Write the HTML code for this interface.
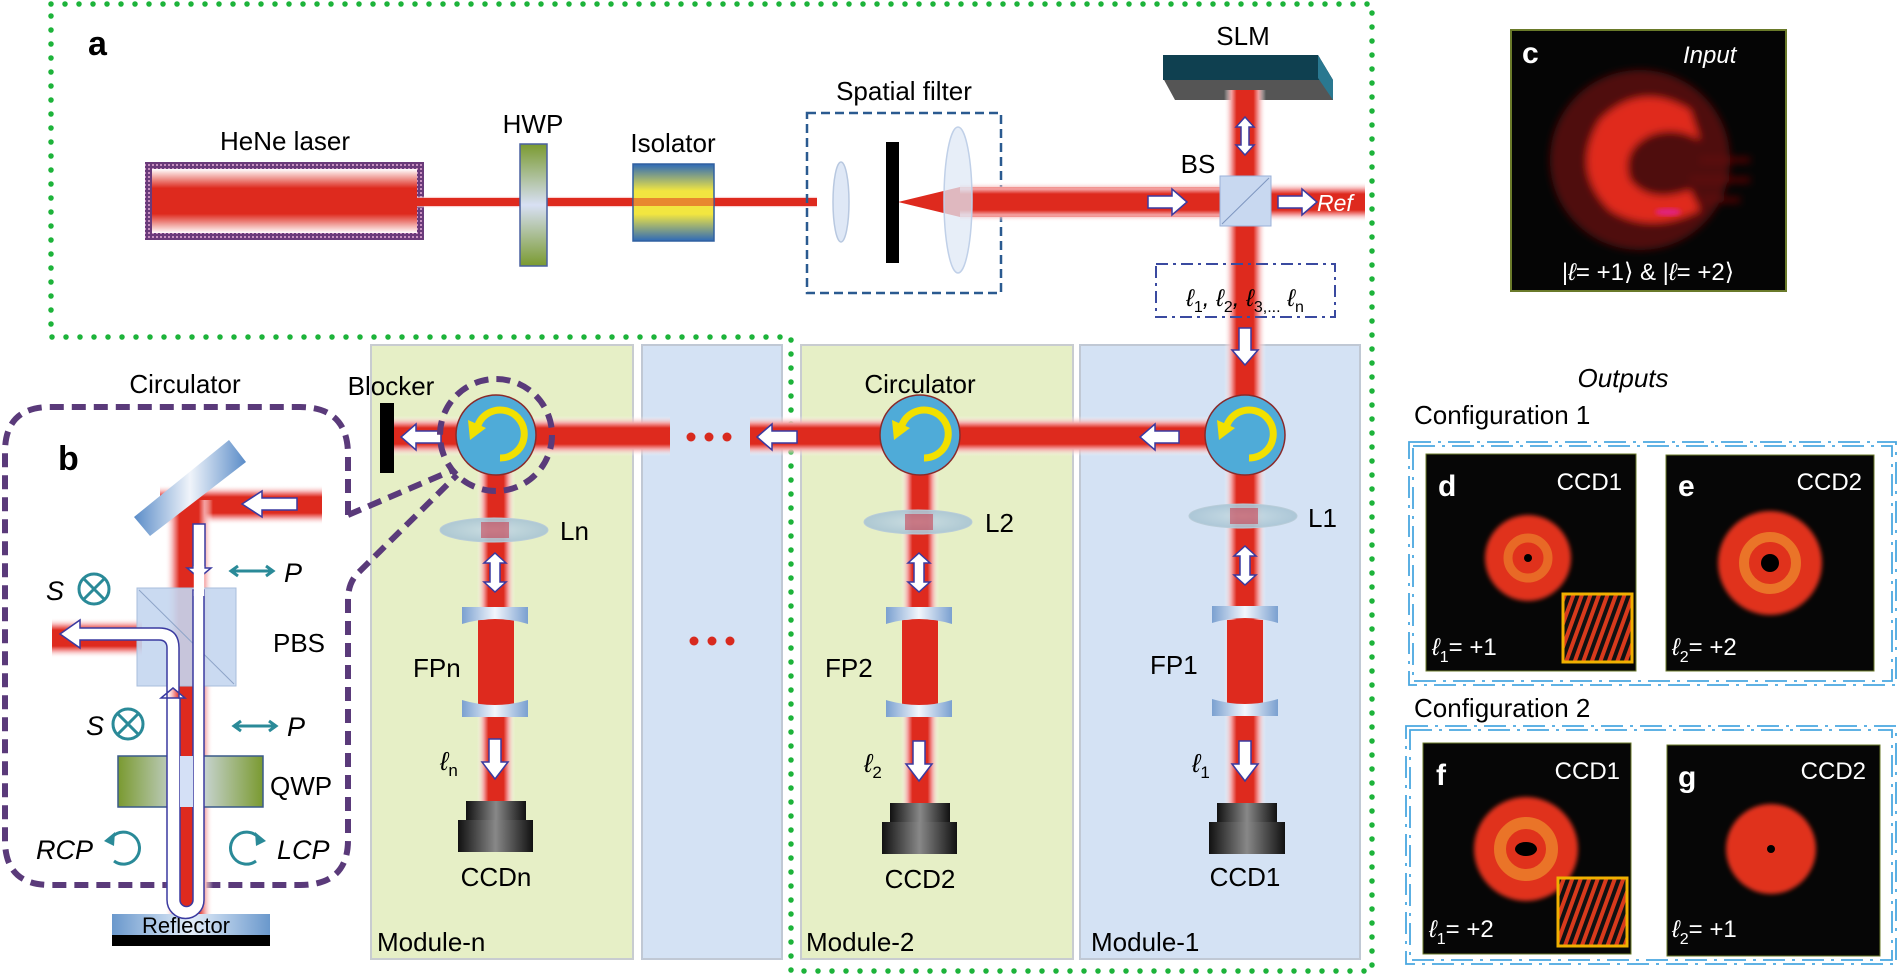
<!DOCTYPE html>
<html><head><meta charset="utf-8"><style>
html,body{margin:0;padding:0;background:#fff;}
svg{display:block;}
text{font-family:"Liberation Sans","DejaVu Sans",sans-serif;}
</style></head><body>
<svg width="1899" height="976" viewBox="0 0 1899 976" xmlns="http://www.w3.org/2000/svg">
<defs>
<linearGradient id="bh" x1="0" y1="0" x2="0" y2="1">
<stop offset="0" stop-color="#fff" stop-opacity="0"/><stop offset="0.18" stop-color="#f4a0a0"/><stop offset="0.3" stop-color="#de2a1e"/><stop offset="0.7" stop-color="#de2a1e"/><stop offset="0.82" stop-color="#f4a0a0"/><stop offset="1" stop-color="#fff" stop-opacity="0"/></linearGradient>
<linearGradient id="bv" x1="0" y1="0" x2="1" y2="0">
<stop offset="0" stop-color="#fff" stop-opacity="0"/><stop offset="0.18" stop-color="#f4a0a0"/><stop offset="0.3" stop-color="#de2a1e"/><stop offset="0.7" stop-color="#de2a1e"/><stop offset="0.82" stop-color="#f4a0a0"/><stop offset="1" stop-color="#fff" stop-opacity="0"/></linearGradient>
<linearGradient id="laser" x1="0" y1="0" x2="0" y2="1">
<stop offset="0" stop-color="#fff"/><stop offset="0.3" stop-color="#de2a1e"/><stop offset="0.7" stop-color="#de2a1e"/><stop offset="1" stop-color="#fff"/></linearGradient>
<linearGradient id="hwp" x1="0" y1="0" x2="0" y2="1">
<stop offset="0" stop-color="#7a9a30"/><stop offset="0.5" stop-color="#d8e0f4"/><stop offset="1" stop-color="#7a9a30"/></linearGradient>
<linearGradient id="iso" x1="0" y1="0" x2="0" y2="1">
<stop offset="0" stop-color="#2e6ab8"/><stop offset="0.35" stop-color="#f2e640"/><stop offset="0.65" stop-color="#f2e640"/><stop offset="1" stop-color="#2e6ab8"/></linearGradient>
<linearGradient id="qwp" x1="0" y1="0" x2="1" y2="0">
<stop offset="0" stop-color="#7a9a30"/><stop offset="0.5" stop-color="#d8e0f4"/><stop offset="1" stop-color="#7a9a30"/></linearGradient>
<linearGradient id="refl" x1="0" y1="0" x2="1" y2="0">
<stop offset="0" stop-color="#6a98cc"/><stop offset="0.5" stop-color="#e4eefa"/><stop offset="1" stop-color="#6a98cc"/></linearGradient>
<linearGradient id="mir" x1="0" y1="0" x2="1" y2="0">
<stop offset="0" stop-color="#5a8cc8"/><stop offset="0.5" stop-color="#f0f4fa"/><stop offset="1" stop-color="#5a8cc8"/></linearGradient>
<linearGradient id="fp" x1="0" y1="0" x2="1" y2="0">
<stop offset="0" stop-color="#7aa0d0"/><stop offset="0.5" stop-color="#f2f6fc"/><stop offset="1" stop-color="#7aa0d0"/></linearGradient>
<linearGradient id="ccd" x1="0" y1="0" x2="1" y2="0">
<stop offset="0" stop-color="#111"/><stop offset="0.5" stop-color="#888"/><stop offset="1" stop-color="#111"/></linearGradient>
<radialGradient id="lens" cx="0.5" cy="0.5" r="0.5">
<stop offset="0" stop-color="#c8dce4"/><stop offset="1" stop-color="#a8c4d4"/></radialGradient>
<pattern id="stripes" width="8" height="8" patternUnits="userSpaceOnUse" patternTransform="rotate(20)">
<rect width="8" height="8" fill="#111"/><rect width="4" height="8" fill="#d83a1c"/></pattern>
<pattern id="hatch" width="4" height="4" patternUnits="userSpaceOnUse">
<rect width="4" height="4" fill="#6a3a7a"/><rect width="2" height="2" fill="#c890c0"/></pattern>
<filter id="blur4"><feGaussianBlur stdDeviation="4"/></filter>
<filter id="blur2"><feGaussianBlur stdDeviation="2"/></filter>
</defs>

<rect x="371" y="345" width="262" height="614" fill="#e6efc6" stroke="#c8ccd0" stroke-width="2"/>
<rect x="642" y="345" width="140" height="614" fill="#d4e2f4" stroke="#c0c8d4" stroke-width="2"/>
<rect x="801" y="345" width="272" height="614" fill="#e6efc6" stroke="#c8ccd0" stroke-width="2"/>
<rect x="1080" y="345" width="280" height="614" fill="#d4e2f4" stroke="#c0c8d4" stroke-width="2"/>

<path d="M51 4 H1372 V971 H791 V337 H51 Z" fill="none" stroke="#1db33a" stroke-width="5.5" stroke-linecap="round" stroke-dasharray="0 14"/>

<text x="88" y="55" font-size="34" font-weight="bold">a</text>
<text x="285" y="150" font-size="26" text-anchor="middle">HeNe laser</text>
<rect x="145" y="162" width="279" height="78" fill="url(#hatch)"/>
<rect x="152" y="169" width="265" height="64" fill="url(#laser)"/>
<rect x="417" y="196" width="400" height="12" fill="url(#bh)"/>
<rect x="417" y="198" width="400" height="8" fill="#de2a1e"/>
<text x="533" y="133" font-size="26" text-anchor="middle">HWP</text>
<rect x="520" y="144" width="27" height="122" fill="url(#hwp)" stroke="#4a60a0" stroke-width="1.5"/>
<text x="673" y="152" font-size="26" text-anchor="middle">Isolator</text>
<rect x="633" y="164" width="81" height="77" fill="url(#iso)" stroke="#3060a0" stroke-width="1.5"/>
<rect x="633" y="198" width="81" height="8" fill="#de2a1e" opacity="0.5"/>
<text x="904" y="100" font-size="26" text-anchor="middle">Spatial filter</text>
<rect x="807" y="113" width="194" height="180" fill="none" stroke="#2a5a90" stroke-width="2.5" stroke-dasharray="9 5"/>
<ellipse cx="841" cy="202" rx="8" ry="40" fill="#dfe8f6" stroke="#b8c8e0" stroke-width="1.5"/>
<path d="M898 202 L960 187 L1230 187 L1230 217 L960 217 Z" fill="#de2a1e"/>
<rect x="960" y="182" width="270" height="40" fill="url(#bh)"/>
<rect x="1271" y="182" width="94" height="40" fill="url(#bh)"/>
<rect x="886" y="142" width="13" height="121" fill="#000"/>
<ellipse cx="958" cy="200" rx="14" ry="73" fill="#dfe8f6" fill-opacity="0.75" stroke="#c0d0e8" stroke-width="1.5"/>

<text x="1243" y="45" font-size="26" text-anchor="middle">SLM</text>
<path d="M1163 55 H1318 L1333 80 V100 H1175 L1163 78 Z" fill="#555"/>
<path d="M1163 55 H1318 L1333 80 H1163 Z" fill="#0f4050"/>
<path d="M1318 55 L1333 80 V100 L1318 78 Z" fill="#2a7890"/>
<rect x="1224" y="90" width="42" height="713" fill="url(#bv)" />
<rect x="1220" y="176" width="51" height="50" fill="#c8d8f0" stroke="#9ab0d8"/>
<line x1="1222" y1="224" x2="1269" y2="178" stroke="#7e96c0" stroke-width="1"/>
<text x="1198" y="173" font-size="26" text-anchor="middle">BS</text>
<polygon points="1148,196 1172,196 1172,189 1187,202 1172,215 1172,208 1148,208" fill="#fff" stroke="#3a3aa0" stroke-width="1.5"/>
<polygon points="1278,196 1302,196 1302,189 1317,202 1302,215 1302,208 1278,208" fill="#fff" stroke="#3a3aa0" stroke-width="1.5"/>
<text x="1317" y="211" font-size="23" font-style="italic" fill="#fff">Ref</text>
<polygon points="1245,117 1254,127 1249,127 1249,145 1254,145 1245,155 1236,145 1241,145 1241,127 1236,127" fill="#fff" stroke="#3a3aa0" stroke-width="1.5"/>
<rect x="1156" y="264" width="179" height="53" fill="#fff" fill-opacity="0" stroke="#3a4aa0" stroke-width="2" stroke-dasharray="12 5 3 5"/>
<text x="1245" y="306" font-size="24" text-anchor="middle" font-style="italic">ℓ<tspan font-size="16" dy="6" font-style="normal">1</tspan><tspan dy="-6">, ℓ</tspan><tspan font-size="16" dy="6" font-style="normal">2</tspan><tspan dy="-6">, ℓ</tspan><tspan font-size="16" dy="6" font-style="normal">3,...</tspan><tspan dy="-6"> ℓ</tspan><tspan font-size="16" dy="6" font-style="normal">n</tspan></text>
<polygon points="1239,328 1251,328 1251,350 1258,350 1245,365 1232,350 1239,350" fill="#fff" stroke="#3a3aa0" stroke-width="1.5"/>

<rect x="394" y="416" width="276" height="40" fill="url(#bh)"/>
<rect x="750" y="416" width="495" height="40" fill="url(#bh)"/>
<circle cx="691" cy="437" r="4.5" fill="#d82a1e"/><circle cx="709" cy="437" r="4.5" fill="#d82a1e"/><circle cx="727" cy="437" r="4.5" fill="#d82a1e"/>
<rect x="380" y="403" width="14" height="70" fill="#000"/>
<text x="391" y="395" font-size="26" text-anchor="middle">Blocker</text>
<polygon points="441,431 416,431 416,424 401,437 416,450 416,443 441,443" fill="#fff" stroke="#3a3aa0" stroke-width="1.5"/>
<polygon points="797,431 772,431 772,424 757,437 772,450 772,443 797,443" fill="#fff" stroke="#3a3aa0" stroke-width="1.5"/>
<polygon points="1179,431 1155,431 1155,424 1140,437 1155,450 1155,443 1179,443" fill="#fff" stroke="#3a3aa0" stroke-width="1.5"/>

<g>
<rect x="477" y="470" width="38" height="333" fill="url(#bv)"/>
<rect x="478" y="620" width="36" height="85" fill="#de2a1e"/>
<rect x="901" y="470" width="38" height="333" fill="url(#bv)"/>
<rect x="902" y="620" width="36" height="85" fill="#de2a1e"/>
<rect x="1227" y="620" width="36" height="85" fill="#de2a1e"/>
</g>

<circle cx="496" cy="435" r="40" fill="#4fabd8" stroke="#8a2a2a" stroke-width="1.5"/>
<path d="M478 425 A24 24 0 1 1 500 458" fill="none" stroke="#f2e000" stroke-width="7"/>
<polygon points="470,440 468,420 486,428" fill="#f2e000"/>
<circle cx="920" cy="435" r="40" fill="#4fabd8" stroke="#8a2a2a" stroke-width="1.5"/>
<path d="M902 425 A24 24 0 1 1 924 458" fill="none" stroke="#f2e000" stroke-width="7"/>
<polygon points="894,440 892,420 910,428" fill="#f2e000"/>
<circle cx="1245" cy="435" r="40" fill="#4fabd8" stroke="#8a2a2a" stroke-width="1.5"/>
<path d="M1227 425 A24 24 0 1 1 1249 458" fill="none" stroke="#f2e000" stroke-width="7"/>
<polygon points="1219,440 1217,420 1235,428" fill="#f2e000"/>
<text x="920" y="393" font-size="26" text-anchor="middle">Circulator</text>
<circle cx="496" cy="435" r="56" fill="none" stroke="#5a3a7a" stroke-width="6" stroke-dasharray="14 8"/>

<g font-size="26">
<ellipse cx="494" cy="530" rx="54" ry="12" fill="url(#lens)" fill-opacity="0.9" stroke="#b8ccd8"/>
<ellipse cx="918" cy="522" rx="54" ry="12" fill="url(#lens)" fill-opacity="0.9" stroke="#b8ccd8"/>
<ellipse cx="1243" cy="516" rx="54" ry="12" fill="url(#lens)" fill-opacity="0.9" stroke="#b8ccd8"/>
<rect x="481" y="522" width="28" height="16" fill="#c8283a" opacity="0.5"/>
<rect x="905" y="514" width="28" height="16" fill="#c8283a" opacity="0.5"/>
<rect x="1230" y="508" width="28" height="16" fill="#c8283a" opacity="0.5"/>
<text x="560" y="540">Ln</text><text x="985" y="532">L2</text><text x="1308" y="527">L1</text>
</g>
<g fill="#fff" stroke="#3a3aa0" stroke-width="1.5">
<polygon points="495,553 506,563 500,563 500,582 506,582 495,592 484,582 490,582 490,563 484,563"/>
<polygon points="919,553 930,563 924,563 924,582 930,582 919,592 908,582 914,582 914,563 908,563"/>
<polygon points="1245,546 1256,556 1250,556 1250,575 1256,575 1245,585 1234,575 1240,575 1240,556 1234,556"/>
<polygon points="489,739 501,739 501,762 508,762 495,779 482,762 489,762"/>
<polygon points="913,741 925,741 925,764 932,764 919,781 906,764 913,764"/>
<polygon points="1239,741 1251,741 1251,764 1258,764 1245,781 1232,764 1239,764"/>
</g>
<g fill="url(#fp)">
<path d="M462 607 H528 V624 Q495 614 462 624 Z"/>
<path d="M462 717 H528 V700 Q495 710 462 700 Z"/>
<path d="M886 607 H952 V624 Q919 614 886 624 Z"/>
<path d="M886 717 H952 V700 Q919 710 886 700 Z"/>
<path d="M1212 606 H1278 V623 Q1245 613 1212 623 Z"/>
<path d="M1212 716 H1278 V699 Q1245 709 1212 699 Z"/>
</g>
<g font-size="26">
<text x="413" y="677">FPn</text><text x="825" y="677">FP2</text><text x="1150" y="674">FP1</text>
<text x="440" y="770" font-style="italic">ℓ<tspan font-size="17" dy="6" font-style="normal">n</tspan></text>
<text x="864" y="772" font-style="italic">ℓ<tspan font-size="17" dy="6" font-style="normal">2</tspan></text>
<text x="1192" y="772" font-style="italic">ℓ<tspan font-size="17" dy="6" font-style="normal">1</tspan></text>
</g>
<g>
<rect x="466" y="801" width="60" height="20" fill="url(#ccd)"/><rect x="458" y="820" width="75" height="32" fill="url(#ccd)"/>
<rect x="890" y="803" width="60" height="20" fill="url(#ccd)"/><rect x="882" y="822" width="75" height="32" fill="url(#ccd)"/>
<rect x="1217" y="803" width="60" height="20" fill="url(#ccd)"/><rect x="1209" y="822" width="76" height="32" fill="url(#ccd)"/>
</g>
<g font-size="26" text-anchor="middle">
<text x="496" y="886">CCDn</text><text x="920" y="888">CCD2</text><text x="1245" y="886">CCD1</text>
</g>
<g font-size="26">
<text x="377" y="951">Module-n</text><text x="806" y="951">Module-2</text><text x="1091" y="951">Module-1</text>
</g>
<circle cx="694" cy="641" r="4.5" fill="#d82a1e"/><circle cx="712" cy="641" r="4.5" fill="#d82a1e"/><circle cx="730" cy="641" r="4.5" fill="#d82a1e"/>

<text x="185" y="393" font-size="26" text-anchor="middle">Circulator</text>
<path d="M348 515 V455 Q348 407 300 407 H50 Q5 407 5 452 V840 Q5 885 50 885 H300 Q348 885 348 840 V600 Q348 583 358 573 L457 475 M348 515 L453 470" fill="none" stroke="#5a3a7a" stroke-width="6" stroke-dasharray="14 8"/>
<text x="58" y="470" font-size="34" font-weight="bold">b</text>
<rect x="160" y="485" width="162" height="40" fill="url(#bh)"/>
<rect x="165" y="500" width="48" height="415" fill="url(#bv)"/>
<rect x="52" y="618" width="90" height="40" fill="url(#bh)"/>
<polygon points="134,517 229,440 246,462 150,536" fill="url(#mir)"/>
<rect x="137" y="588" width="99" height="98" fill="#c4d6f0" fill-opacity="0.9" stroke="#a8bedc"/>
<line x1="139" y1="590" x2="234" y2="684" stroke="#8ea4c8" stroke-width="1"/>
<rect x="118" y="756" width="145" height="51" fill="url(#qwp)" stroke="#3a5a8a" stroke-width="1.5"/>
<rect x="112" y="914" width="158" height="21" fill="url(#refl)"/>
<rect x="112" y="935" width="158" height="11" fill="#000"/>
<text x="186" y="933" font-size="22" text-anchor="middle">Reflector</text>
<path d="M167 698 V900 A18.5 18.5 0 0 0 204 900 V590 H193 V900 A6.5 6.5 0 0 1 180 900 V698 Z" fill="#fff" stroke="#3a3aa0" stroke-width="1.5"/>
<rect x="181" y="700" width="11" height="200" fill="#de2a1e"/>
<rect x="180" y="756" width="13" height="51" fill="#d4e0f6"/>
<path d="M193 524 H205 V568 H211 L199 578 L187 568 H193 Z" fill="#fff" stroke="#3a3aa0" stroke-width="1.5"/>
<rect x="193.8" y="566" width="10.4" height="30" fill="#fff"/>
<path d="M167 698 H161 L173 688 L185 698 H179 V648 Q179 628 159 628 H80 V620 L60 634 L80 648 V640 H159 Q167 640 167 648 Z" fill="#fff" stroke="#3a3aa0" stroke-width="1.5"/>
<polygon points="297,498 262,498 262,491 242,504 262,517 262,510 297,510" fill="#fff" stroke="#3a3aa0" stroke-width="1.5"/>
<g fill="none" stroke="#2a8a98" stroke-width="3">
<circle cx="94" cy="589" r="15"/><path d="M84 579 L104 599 M104 579 L84 599"/>
<circle cx="128" cy="724" r="15"/><path d="M118 714 L138 734 M138 714 L118 734"/>
<path d="M232 571 H272"/><path d="M238 566 L231 571 L238 576 M266 566 L273 571 L266 576"/>
<path d="M235 726 H275"/><path d="M241 721 L234 726 L241 731 M269 721 L276 726 L269 731"/>
<path d="M112 837 A16 16 0 1 1 114 861" />
<path d="M258 837 A16 16 0 1 0 256 861" />
</g>
<polygon points="104,841 115,832 114,846" fill="#2a8a98"/>
<polygon points="266,841 255,832 256,846" fill="#2a8a98"/>
<g font-size="27" font-style="italic">
<text x="46" y="600">S</text><text x="284" y="582">P</text>
<text x="86" y="735">S</text><text x="287" y="736">P</text>
<text x="36" y="859">RCP</text><text x="277" y="859">LCP</text>
</g>
<text x="273" y="652" font-size="26">PBS</text>
<text x="270" y="795" font-size="26">QWP</text>

<rect x="1511" y="30" width="275" height="261" fill="#050505" stroke="#6a7a2a" stroke-width="2"/>
<g filter="url(#blur4)">
<ellipse cx="1640" cy="160" rx="90" ry="90" fill="#501010"/>
<path d="M1690 110 Q1640 80 1600 120 Q1570 170 1610 210 Q1650 235 1700 210 L1690 190 Q1650 205 1630 180 Q1620 150 1650 135 Q1675 125 1700 140 Z" fill="#e02a1e"/>
<path d="M1700 160 H1750 M1690 180 H1750 M1700 200 H1740" stroke="#601010" stroke-width="5"/>
</g>
<ellipse cx="1668" cy="212" rx="13" ry="4" fill="#e0207a" filter="url(#blur2)"/>
<text x="1522" y="63" font-size="30" font-weight="bold" fill="#fff">c</text>
<text x="1683" y="63" font-size="24" font-style="italic" fill="#fff">Input</text>
<text x="1648" y="280" font-size="24" fill="#fff" text-anchor="middle">|<tspan font-style="italic">ℓ</tspan>= +1⟩ &amp; |<tspan font-style="italic">ℓ</tspan>= +2⟩</text>

<text x="1623" y="387" font-size="26" font-style="italic" text-anchor="middle">Outputs</text>
<text x="1414" y="424" font-size="26">Configuration 1</text>
<text x="1414" y="717" font-size="26">Configuration 2</text>
<g fill="none" stroke="#4aa8e0" stroke-width="1.8" stroke-dasharray="22 7 3 7">
<rect x="1409" y="442" width="487" height="243"/><rect x="1413" y="446" width="479" height="235"/>
<rect x="1406" y="726" width="490" height="238"/><rect x="1410" y="730" width="482" height="230"/>
</g>
<rect x="1426" y="454" width="210" height="217" fill="#060606" stroke="#6a7a2a"/>
<circle cx="1528" cy="558" r="43" fill="#e0301e" filter="url(#blur2)"/>
<circle cx="1528" cy="558" r="20" fill="none" stroke="#f0a030" stroke-width="9" opacity="0.5"/>
<circle cx="1528" cy="558" r="4" fill="#000"/>
<rect x="1563" y="594" width="69" height="68" fill="url(#stripes)" stroke="#f0b000" stroke-width="3"/>
<rect x="1666" y="455" width="208" height="216" fill="#060606" stroke="#6a7a2a"/>
<circle cx="1770" cy="563" r="52" fill="#e0301e" filter="url(#blur2)"/>
<circle cx="1770" cy="563" r="26" fill="none" stroke="#f0a030" stroke-width="10" opacity="0.6"/>
<circle cx="1770" cy="563" r="9" fill="#000"/>
<rect x="1423" y="743" width="208" height="211" fill="#060606" stroke="#6a7a2a"/>
<circle cx="1526" cy="849" r="52" fill="#e0301e" filter="url(#blur2)"/>
<circle cx="1526" cy="849" r="26" fill="none" stroke="#f0a030" stroke-width="12" opacity="0.6"/>
<ellipse cx="1526" cy="849" rx="11" ry="7" fill="#000"/>
<rect x="1558" y="878" width="69" height="68" fill="url(#stripes)" stroke="#f0b000" stroke-width="3"/>
<rect x="1667" y="745" width="213" height="211" fill="#060606" stroke="#6a7a2a"/>
<circle cx="1771" cy="849" r="45" fill="#e0301e" filter="url(#blur2)"/>
<circle cx="1771" cy="849" r="4" fill="#000"/>
<g fill="#fff">
<text x="1438" y="496" font-size="30" font-weight="bold">d</text>
<text x="1678" y="496" font-size="30" font-weight="bold">e</text>
<text x="1436" y="785" font-size="30" font-weight="bold">f</text>
<text x="1678" y="787" font-size="30" font-weight="bold">g</text>
<g font-size="24" text-anchor="end">
<text x="1622" y="490">CCD1</text><text x="1862" y="490">CCD2</text>
<text x="1620" y="779">CCD1</text><text x="1866" y="779">CCD2</text>
</g>
<g font-size="24">
<text x="1432" y="655"><tspan font-style="italic">ℓ</tspan><tspan font-size="16" dy="7">1</tspan><tspan dy="-7">= +1</tspan></text>
<text x="1672" y="655"><tspan font-style="italic">ℓ</tspan><tspan font-size="16" dy="7">2</tspan><tspan dy="-7">= +2</tspan></text>
<text x="1429" y="937"><tspan font-style="italic">ℓ</tspan><tspan font-size="16" dy="7">1</tspan><tspan dy="-7">= +2</tspan></text>
<text x="1672" y="937"><tspan font-style="italic">ℓ</tspan><tspan font-size="16" dy="7">2</tspan><tspan dy="-7">= +1</tspan></text>
</g>
</g>
</svg>
</body></html>
